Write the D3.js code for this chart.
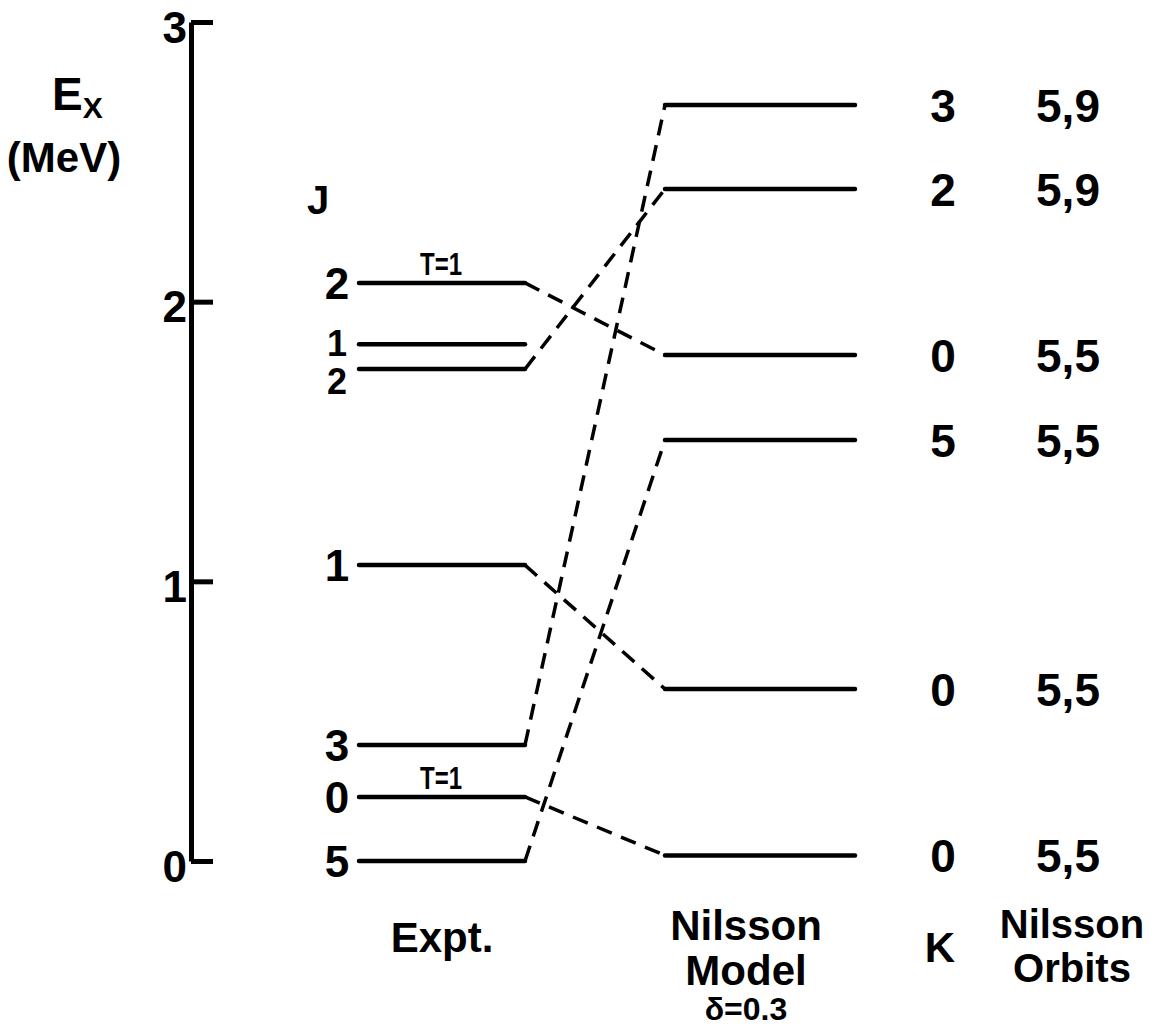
<!DOCTYPE html>
<html>
<head>
<meta charset="utf-8">
<script src="https://cdn.jsdelivr.net/npm/d3@7"></script>
<style>
  body { margin: 0; background: #fff; }
  text { font-family: "Liberation Sans", "DejaVu Sans", sans-serif; font-weight: bold; fill: #000; }
</style>
</head>
<body>
<div id="chart"></div>
<script>
// Mức năng lượng thực nghiệm (MeV), spin J và đánh dấu T=1
var exptE = [0.0, 0.229, 0.415, 1.058, 1.759, 1.848, 2.067];
var exptJ = ["5", "0", "3", "1", "2", "1", "2"];
var exptT = ["", "T=1", "", "", "", "", "T=1"];

// Mức năng lượng theo mô hình Nilsson, K và quỹ đạo Nilsson
var nilE = [0.02, 0.615, 1.505, 1.809, 2.403, 2.703];
var nilK = ["0", "0", "5", "0", "2", "3"];
var nilOrbit = ["5,5", "5,5", "5,5", "5,5", "5,9", "5,9"];

// Các đường nối nét đứt: [chỉ số thực nghiệm, chỉ số Nilsson]
var links = [[6, 3], [4, 4], [3, 1], [2, 5], [0, 2], [1, 0]];

var axisTicks = [0, 1, 2, 3];

var width = 1160, height = 1030;

var svg = d3.select("#chart").append("svg")
    .attr("width", width)
    .attr("height", height);

var y = d3.scaleLinear().domain([0, 3]).range([861, 22]);

// Trục năng lượng
var axis = d3.axisLeft(y)
    .tickValues(axisTicks)
    .tickFormat(d3.format("d"))
    .tickSizeInner(-22)
    .tickSizeOuter(0)
    .tickPadding(4);

var gAxis = svg.append("g")
    .attr("transform", "translate(191,0)")
    .call(axis);
gAxis.select(".domain").attr("stroke", "#000").attr("stroke-width", 5);
gAxis.selectAll(".tick line").attr("stroke", "#000").attr("stroke-width", 5);
gAxis.selectAll(".tick text")
    .attr("font-size", 44)
    .attr("font-family", "Liberation Sans, sans-serif")
    .attr("font-weight", "bold")
    .attr("fill", "#000")
    .attr("dy", "0.46em");

// Nhãn trục E_x (MeV)
var ex = svg.append("text").attr("x", 52).attr("y", 110).attr("font-size", 46);
ex.append("tspan").text("E");
ex.append("tspan").attr("font-size", 30).attr("dy", 8).text("X");
svg.append("text").attr("x", 64).attr("y", 172).attr("text-anchor", "middle")
    .attr("font-size", 42).text("(MeV)");

var exX0 = 359, exX1 = 525, nilX0 = 665, nilX1 = 855;

// Đường nối nét đứt
svg.selectAll(".link")
    .data(links)
    .enter().append("line")
    .attr("x1", exX1)
    .attr("y1", function(d) { return y(exptE[d[0]]); })
    .attr("x2", nilX0)
    .attr("y2", function(d) { return y(nilE[d[1]]); })
    .attr("stroke", "#000")
    .attr("stroke-width", 3.5)
    .attr("stroke-dasharray", "16,10");

// Mức thực nghiệm
svg.selectAll(".expt")
    .data(exptE)
    .enter().append("line")
    .attr("x1", exX0).attr("x2", exX1)
    .attr("y1", function(d) { return y(d); })
    .attr("y2", function(d) { return y(d); })
    .attr("stroke", "#000")
    .attr("stroke-width", 4.5)
    .attr("stroke-linecap", "round");

svg.selectAll(".exptJ")
    .data(exptE)
    .enter().append("text")
    .attr("x", 337)
    .attr("y", function(d, i) {
        // hai mức gần nhau: đặt nhãn lệch lên/xuống
        if (i == 4) return y(d) + 25;
        if (i == 5) return y(d) + 12;
        return y(d) + 16;
    })
    .attr("text-anchor", "middle")
    .attr("font-size", function(d, i) { return (i == 4 || i == 5) ? 36 : 44; })
    .text(function(d, i) { return exptJ[i]; });

svg.selectAll(".exptT")
    .data(exptE)
    .enter().filter(function(d, i) { return exptT[i] != ""; })
    .append("text")
    .attr("x", 441)
    .attr("y", function(d) { return y(d) - 8; })
    .attr("text-anchor", "middle")
    .attr("font-size", 32)
    .attr("transform", "translate(441,0) scale(0.75,1) translate(-441,0)")
    .text(function(d) { return exptT[exptE.indexOf(d)]; });

svg.append("text").attr("x", 318).attr("y", 214).attr("text-anchor", "middle")
    .attr("font-size", 40).text("J");

// Mức mô hình Nilsson
svg.selectAll(".nil")
    .data(nilE)
    .enter().append("line")
    .attr("x1", nilX0).attr("x2", nilX1)
    .attr("y1", function(d) { return y(d); })
    .attr("y2", function(d) { return y(d); })
    .attr("stroke", "#000")
    .attr("stroke-width", 4.5)
    .attr("stroke-linecap", "round");

svg.selectAll(".nilK")
    .data(nilE)
    .enter().append("text")
    .attr("x", 943)
    .attr("y", function(d) { return y(d); })
    .attr("dy", "0.36em")
    .attr("text-anchor", "middle")
    .attr("font-size", 46)
    .text(function(d, i) { return nilK[i]; });

svg.selectAll(".nilOrbit")
    .data(nilE)
    .enter().append("text")
    .attr("x", 1068)
    .attr("y", function(d) { return y(d); })
    .attr("dy", "0.36em")
    .attr("text-anchor", "middle")
    .attr("font-size", 46)
    .text(function(d, i) { return nilOrbit[i]; });

// Chú thích phía dưới
svg.append("text").attr("x", 442).attr("y", 952).attr("text-anchor", "middle")
    .attr("font-size", 42).text("Expt.");
svg.append("text").attr("x", 746).attr("y", 940).attr("text-anchor", "middle")
    .attr("font-size", 42).text("Nilsson");
svg.append("text").attr("x", 746).attr("y", 985).attr("text-anchor", "middle")
    .attr("font-size", 42).text("Model");
svg.append("text").attr("x", 746).attr("y", 1020).attr("text-anchor", "middle")
    .attr("font-size", 32).text("δ=0.3");
svg.append("text").attr("x", 940).attr("y", 962).attr("text-anchor", "middle")
    .attr("font-size", 42).text("K");
svg.append("text").attr("x", 1072).attr("y", 938).attr("text-anchor", "middle")
    .attr("font-size", 40).text("Nilsson");
svg.append("text").attr("x", 1072).attr("y", 982).attr("text-anchor", "middle")
    .attr("font-size", 40).text("Orbits");
</script>
</body>
</html>
